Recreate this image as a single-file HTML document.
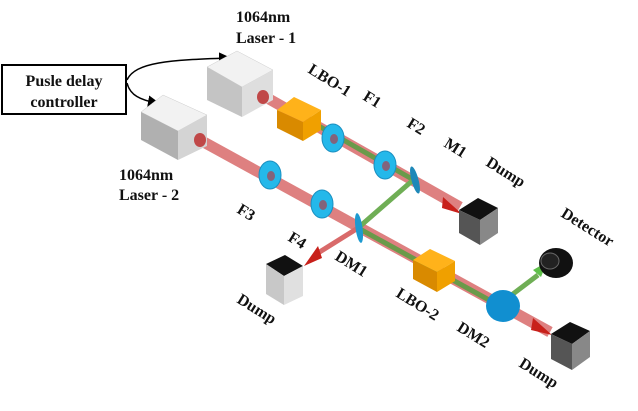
<!DOCTYPE html>
<html><head><meta charset="utf-8"><style>
html,body{margin:0;padding:0;background:#fff;}
svg{display:block;}
text{font-family:"Liberation Serif",serif;font-weight:bold;font-size:16px;fill:#111;}
</style></head><body>
<svg width="638" height="411" viewBox="0 0 638 411" xmlns="http://www.w3.org/2000/svg">
<defs>
<marker id="ah" markerWidth="8" markerHeight="8" refX="6" refY="4" orient="auto"><path d="M0,0 L8,4 L0,8 z" fill="#000"/></marker>
</defs>
<rect x="2" y="65" width="124" height="49" fill="#fff" stroke="#000" stroke-width="2"/>
<text x="64" y="86" text-anchor="middle" font-size="18">Pusle delay</text>
<text x="64" y="107" text-anchor="middle" font-size="18">controller</text>
<path d="M127,80 C135,62 170,60 228,58" fill="none" stroke="#000" stroke-width="1.5" marker-end="url(#ah)"/>
<path d="M127,83 C130,95 140,100 157,103" fill="none" stroke="#000" stroke-width="1.5" marker-end="url(#ah)"/>
<text x="236" y="22" font-size="17">1064nm</text>
<text x="236" y="43" font-size="17">Laser - 1</text>
<text x="119" y="180" font-size="17">1064nm</text>
<text x="119" y="200" font-size="17">Laser - 2</text>

<line x1="262" y1="95" x2="460" y2="207" stroke="#d96a6a" stroke-width="11" opacity="0.85"/>
<line x1="200" y1="140" x2="550" y2="332" stroke="#d96a6a" stroke-width="11" opacity="0.85"/>
<line x1="310" y1="121" x2="412" y2="179" stroke="#6a9a4a" stroke-width="5"/>
<line x1="358" y1="228" x2="500" y2="306" stroke="#6a9a4a" stroke-width="5"/>
<line x1="412" y1="181" x2="358" y2="228" stroke="#6fae55" stroke-width="5"/>
<line x1="358" y1="228" x2="318" y2="253" stroke="#d96a6a" stroke-width="5"/>
<line x1="505" y1="300" x2="538" y2="275" stroke="#6fae55" stroke-width="5"/>
<path d="M443,197 L462,214 L442,208 z" fill="#c8201a"/>
<path d="M318,246 L304,266 L322,258 z" fill="#c8201a"/>
<path d="M533,318 L552,335 L531,330 z" fill="#c8201a"/>
<path d="M533,270 L547,262 L541,277 z" fill="#5fc04a"/>

<polygon points="207,67 237,51 273,70 242,87" fill="#f2f2f2" stroke="#ccc" stroke-width="0.5"/>
<polygon points="207,67 242,87 242,117 207,100" fill="#c4c4c4"/>
<polygon points="242,87 273,70 273,100 242,117" fill="#dedede"/>
<polygon points="141,112 163,95 207,115 178,131" fill="#f2f2f2" stroke="#ccc" stroke-width="0.5"/>
<polygon points="141,112 178,131 178,160 141,140" fill="#b0b0b0"/>
<polygon points="178,131 207,115 207,146 178,160" fill="#d4d4d4"/>
<ellipse cx="263" cy="97" rx="6" ry="7" fill="#c04848"/>
<ellipse cx="200" cy="140" rx="6" ry="7" fill="#c04848"/>

<polygon points="277,110 294,97 321,110 303,122" fill="#ffb21a"/>
<polygon points="277,110 303,122 303,141 277,128" fill="#d98a00"/>
<polygon points="303,122 321,110 321,130 303,141" fill="#f0a000"/>
<polygon points="413,260 430,249 455,261 437,272" fill="#ffb21a"/>
<polygon points="413,260 437,272 437,292 413,279" fill="#d98a00"/>
<polygon points="437,272 455,261 455,281 437,292" fill="#f0a000"/>

<g fill="#24b8ea" stroke="#1a8fc0" stroke-width="1">
<ellipse cx="333" cy="138" rx="11" ry="14"/>
<ellipse cx="385" cy="165" rx="11" ry="14"/>
<ellipse cx="270" cy="175" rx="11" ry="14"/>
<ellipse cx="322" cy="204" rx="11" ry="14"/>
</g>
<g fill="#9b4e60" opacity="0.8">
<ellipse cx="334" cy="139" rx="4" ry="5"/>
<ellipse cx="386" cy="166" rx="4" ry="5"/>
<ellipse cx="271" cy="176" rx="4" ry="5"/>
<ellipse cx="323" cy="205" rx="4" ry="5"/>
</g>
<ellipse cx="415" cy="180" rx="3.5" ry="14" transform="rotate(-15 415 180)" fill="#1e88b8"/>
<ellipse cx="359" cy="228" rx="3.5" ry="15" transform="rotate(-8 359 228)" fill="#1e9ad0"/>
<ellipse cx="503" cy="306" rx="17" ry="16" fill="#118fd0"/>
<ellipse cx="556" cy="263" rx="17" ry="15" fill="#111"/>
<ellipse cx="550" cy="261" rx="9" ry="8" fill="#222" stroke="#666" stroke-width="1"/>
<polygon points="459,210 478,198 498,208 480,220" fill="#111"/>
<polygon points="459,210 480,220 480,245 459,233" fill="#555"/>
<polygon points="480,220 498,208 498,233 480,245" fill="#888"/>
<polygon points="266,264 285,255 303,266 284,276" fill="#111"/>
<polygon points="266,264 284,276 284,305 266,294" fill="#c8c8c8"/>
<polygon points="284,276 303,266 303,296 284,305" fill="#e0e0e0"/>
<polygon points="551,334 570,322 590,331 572,344" fill="#111"/>
<polygon points="551,334 572,344 572,370 551,359" fill="#555"/>
<polygon points="572,344 590,331 590,357 572,370" fill="#888"/>

<g>
<text transform="translate(307,72) rotate(32)">LBO-1</text>
<text transform="translate(362,99) rotate(32)">F1</text>
<text transform="translate(406,126) rotate(32)">F2</text>
<text transform="translate(443,146) rotate(32)">M1</text>
<text transform="translate(485,165) rotate(32)">Dump</text>
<text transform="translate(560,216) rotate(32)">Detector</text>
<text transform="translate(236,212) rotate(32)">F3</text>
<text transform="translate(287,240) rotate(32)">F4</text>
<text transform="translate(334,259) rotate(32)">DM1</text>
<text transform="translate(395,296) rotate(32)">LBO-2</text>
<text transform="translate(456,330) rotate(32)">DM2</text>
<text transform="translate(236,302) rotate(32)">Dump</text>
<text transform="translate(518,366) rotate(32)">Dump</text>
</g>
</svg>
</body></html>
